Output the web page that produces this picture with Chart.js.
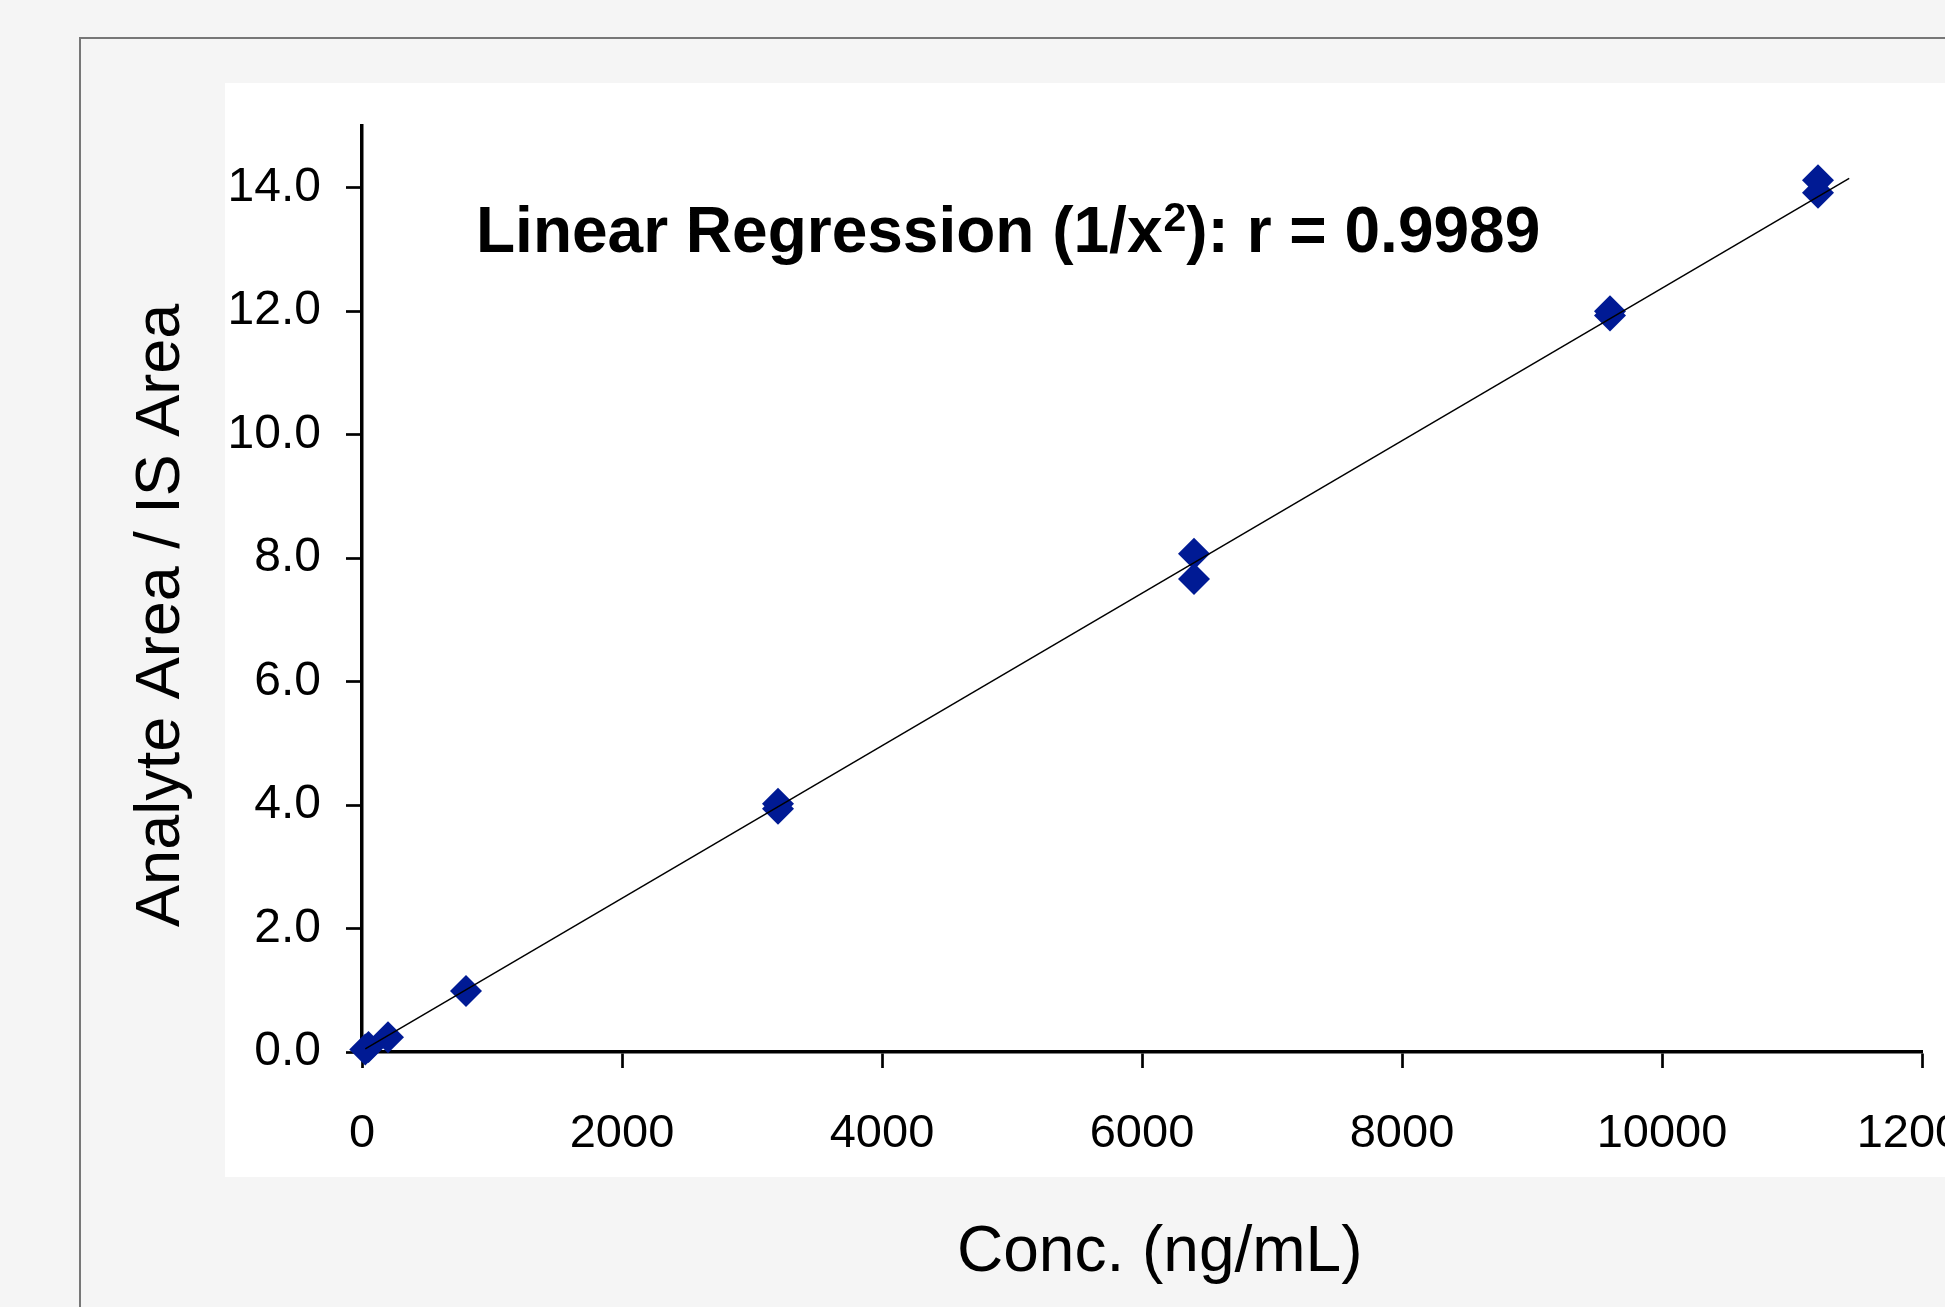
<!DOCTYPE html>
<html>
<head>
<meta charset="utf-8">
<title>Calibration curve</title>
<script src="https://cdn.jsdelivr.net/npm/chart.js@4/dist/chart.umd.min.js"></script>
<style>
  html, body { margin: 0; padding: 0; overflow: hidden; background: #f5f5f5; }
  #wrap { position: absolute; left: 0; top: 0; width: 2050px; height: 1307px; }
</style>
</head>
<body>
<div id="wrap"><canvas id="curve"></canvas></div>
<script>
// calibration standards (ng/mL) and measured area ratios
const concentrations = [25, 50, 200, 800, 3200, 3200, 6400, 6400, 9600, 9600, 11200, 11200];
const areaRatios = [0.04, 0.08, 0.24, 0.99, 3.94, 4.02, 8.07, 7.66, 11.93, 12.0, 14.12, 13.92];

// weighted (1/x^2) fit line, end points as drawn
const fitX = [25, 11440];
const fitY = [0.05, 14.15];

const xTicks = [0, 2000, 4000, 6000, 8000, 10000, 12000];
const yTicks = [0, 2, 4, 6, 8, 10, 12, 14];

// annotation is split round the superscript
const fitLabelParts = ["Linear Regression (1/x", "2", "): r = 0.9989"];
// padded with spaces so the centred titles sit where the original ones do
const xTitle = "  Conc. (ng/mL)";
const yTitle = "Analyte Area / IS Area   ";

const fontFamily = '"Liberation Sans", Arial, Helvetica, sans-serif';

// grey page, frame line and white plot panel
const panel = {
  id: "panel",
  beforeDraw(chart) {
    const ctx = chart.ctx;
    const w = chart.width, h = chart.height;
    ctx.save();
    ctx.fillStyle = "#f5f5f5";
    ctx.fillRect(0, 0, w, h);
    ctx.strokeStyle = "#777777";
    ctx.lineWidth = 2;
    ctx.beginPath();
    ctx.moveTo(80, h + 5);
    ctx.lineTo(80, 38);
    ctx.lineTo(w + 5, 38);
    ctx.stroke();
    ctx.fillStyle = "#ffffff";
    ctx.fillRect(225, 83, w - 225, 1177 - 83);
    ctx.restore();
  },
  afterDraw(chart) {
    const ctx = chart.ctx;
    const area = chart.chartArea;
    let x = area.left + 114;
    const y = area.top + 126;
    ctx.save();
    ctx.fillStyle = "#000";
    ctx.textBaseline = "alphabetic";
    const big = "bold 64px " + fontFamily;
    const small = "bold 41px " + fontFamily;
    ctx.font = big;
    ctx.fillText(fitLabelParts[0], x, y);
    x += ctx.measureText(fitLabelParts[0]).width + 1;
    ctx.font = small;
    ctx.fillText(fitLabelParts[1], x, y - 21);
    x += ctx.measureText(fitLabelParts[1]).width;
    ctx.font = big;
    ctx.fillText(fitLabelParts[2], x, y);
    ctx.restore();
  }
};

const fitPoints = fitX.map((x, i) => ({ x: x, y: fitY[i] }));
const stdPoints = concentrations.map((x, i) => ({ x: x, y: areaRatios[i] }));

new Chart(document.getElementById("curve"), {
  type: "scatter",
  data: {
    datasets: [
      {
        label: "Fit",
        data: fitPoints,
        showLine: true,
        borderColor: "#000",
        borderWidth: 1.5,
        pointRadius: 0,
        clip: false
      },
      {
        label: "Standards",
        data: stdPoints,
        pointStyle: "rectRot",
        pointRadius: 16,
        pointHoverRadius: 16,
        backgroundColor: "#001a94",
        borderColor: "#001a94",
        borderWidth: 0,
        clip: false
      }
    ]
  },
  plugins: [panel],
  options: {
    responsive: true,
    maintainAspectRatio: false,
    animation: false,
    layout: { padding: { top: 126, left: 0, right: 128, bottom: 0 } },
    plugins: {
      legend: { display: false },
      tooltip: { enabled: false }
    },
    scales: {
      x: {
        type: "linear",
        min: 0,
        max: 12000,
        afterFit: (scale) => { scale.height = 255; },
        afterBuildTicks: (scale) => { scale.ticks = xTicks.map((v) => ({ value: v })); },
        ticks: {
          color: "#000",
          font: { family: fontFamily, size: 47 },
          padding: 38,
          maxRotation: 0,
          callback: (v) => String(v)
        },
        grid: {
          display: true,
          drawOnChartArea: false,
          drawTicks: true,
          tickLength: 16,
          tickWidth: 2.7,
          tickColor: "#000"
        },
        border: { display: true, color: "#000", width: 3.5 },
        title: {
          display: true,
          text: xTitle,
          color: "#000",
          font: { family: fontFamily, size: 64 },
          padding: { top: 0, bottom: 15 }
        }
      },
      y: {
        type: "linear",
        min: 0,
        max: 15,
        bounds: "data",
        afterFit: (scale) => { scale.width = 362; },
        afterBuildTicks: (scale) => { scale.ticks = yTicks.map((v) => ({ value: v })); },
        ticks: {
          color: "#000",
          font: { family: fontFamily, size: 48 },
          padding: 25,
          callback: (v) => Number(v).toFixed(1)
        },
        grid: {
          display: true,
          drawOnChartArea: false,
          drawTicks: true,
          tickLength: 16,
          tickWidth: 2.7,
          tickColor: "#000"
        },
        border: { display: true, color: "#000", width: 3.5 },
        title: {
          display: true,
          text: yTitle,
          color: "#000",
          font: { family: fontFamily, size: 63 },
          padding: { top: 124, bottom: 0 }
        }
      }
    }
  }
});
</script>
</body>
</html>
